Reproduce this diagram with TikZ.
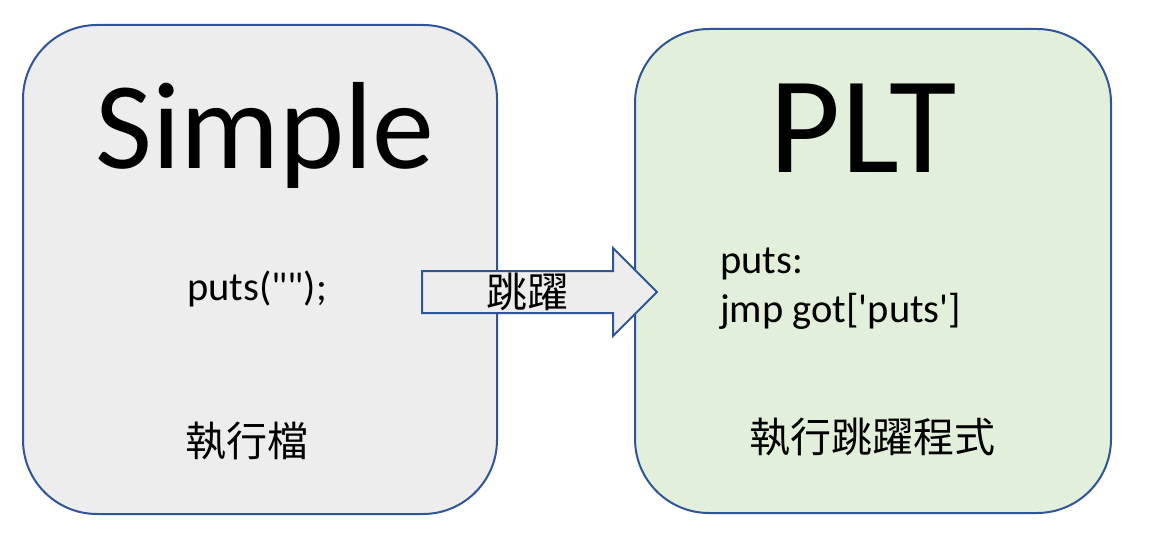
\documentclass[tikz,border=0pt]{standalone}
\usepackage{fontspec}
\setmainfont{Carlito}
\newfontfamily\cjk{Noto Sans CJK TC}
\definecolor{boxline}{HTML}{2F5597}
\definecolor{grayfill}{HTML}{EDEDED}
\definecolor{greenfill}{HTML}{E2EFDA}
\tikzset{
  panel/.style={draw=boxline, line width=2pt, rounded corners=74pt, inner sep=0pt,
    minimum width=474pt, minimum height=489pt},
  big/.style={anchor=base, inner sep=0pt, font=\fontsize{124}{124}\selectfont},
  code/.style={anchor=base west, inner sep=0pt, font=\fontsize{40.5}{49}\selectfont},
  zh/.style={inner sep=0pt, font=\cjk\fontsize{41}{41}\selectfont}
}
\begin{document}
\begin{tikzpicture}[x=1pt, y=-1pt]
  \useasboundingbox (0,0) rectangle (1166,556);
  % the two boxes
  \node[panel, fill=grayfill] (simple) at (260,269.5) {};
  \node[panel, fill=greenfill, minimum width=476pt, minimum height=484pt] (plt) at (873,271) {};
  % jump arrow
  \coordinate (a0) at (422,271);
  \coordinate (tip) at (657,292);
  \draw[boxline, line width=2pt, fill=grayfill, line join=miter]
    (a0) -- (613,271) -- (613,248) -- (tip) -- (613,336) -- (613,313) -- (422,313) -- cycle;
  \node[zh] (jump) at (527,292) {跳躍};
  % texts
  \node[big] (simpletitle) at (265,169) {Simple};
  \node[big, font=\fontsize{138}{138}\selectfont] (plttitle) at (863,173) {PLT};
  \node[code, anchor=base] (call) at (257,300) {puts(\textquotedbl\textquotedbl);};
  \node[code] (label) at (720,273) {puts:};
  \node[code] (jmp) at (720,322) {jmp got[\textquotesingle puts\textquotesingle]};
  \node[zh] (exe) at (247,441) {執行檔};
  \node[zh] (stub) at (872,437) {執行跳躍程式};
\end{tikzpicture}
\end{document}
